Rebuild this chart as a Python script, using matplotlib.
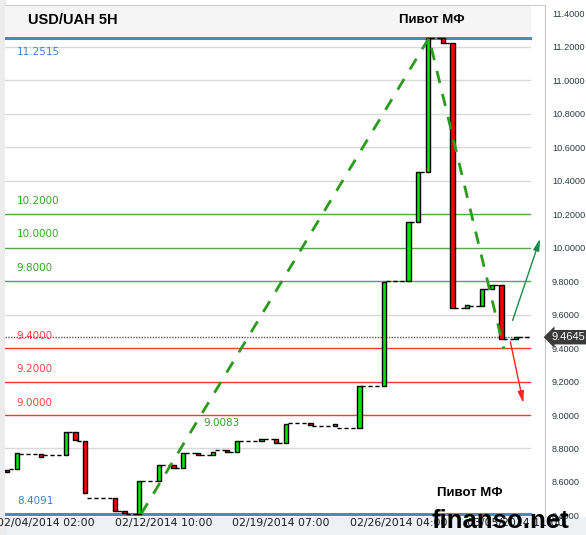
'''
USD/UAH 5H candle chart with pivot levels
'''
import matplotlib
matplotlib.use('Agg')
from matplotlib import pyplot as plt
from matplotlib import transforms as mtrans
from matplotlib.patches import Rectangle

# candles: bar index, open, close
bar_x = [0, 2, 7, 12, 14, 16, 22, 24, 27, 31, 34, 36, 39, 42, 45, 47, 52, 55, 57,
         62, 67, 72, 77, 82, 84, 86, 89, 91, 94, 97, 99, 101, 104]
bar_open = [8.672, 8.678, 8.767, 8.761, 8.899, 8.845, 8.504, 8.427, 8.409, 8.606, 8.701,
            8.684, 8.773, 8.761, 8.791, 8.779, 8.845, 8.857, 8.833, 8.952, 8.934,
            8.922, 9.173, 9.800, 10.152, 10.451, 11.2515, 11.221, 9.639, 9.651, 9.752,
            9.776, 9.454]
bar_close = [8.660, 8.773, 8.749, 8.899, 8.851, 8.534, 8.427, 8.415, 8.606, 8.701, 8.684,
             8.773, 8.761, 8.779, 8.779, 8.845, 8.857, 8.833, 8.946, 8.940, 8.946,
             9.173, 9.794, 10.152, 10.451, 11.2515, 11.221, 9.639, 9.657, 9.752, 9.776,
             9.454, 9.466]

# date ticks
tick_x = [8, 32, 56, 80, 104]
tick_labels = ['02/04/2014 02:00', '02/12/2014 10:00', '02/19/2014 07:00',
               '02/26/2014 04:00', '03/05/2014 11:00']

# levels
grid_levels = [8.8, 9.6, 10.4, 10.6, 10.8, 11.0, 11.2]
green_levels = [10.2, 10.0, 9.8]
red_levels = [9.4, 9.2, 9.0]
blue_levels = [11.2515, 8.4091]
last_price = 9.4645
axis_ticks = [8.4, 8.6, 8.8, 9.0, 9.2, 9.4, 9.6, 9.8, 10.0, 10.2, 10.4, 10.6, 10.8, 11.0, 11.2, 11.4]

# wave drawn by the analyst
wave_x = [27.4, 86.2, 101.5]
wave_y = [8.4091, 11.2515, 9.394]
up_arrow = [(103.1, 9.549), (109.1, 10.069)]
down_arrow = [(102.7, 9.454), (105.6, 9.054)]
mark_x, mark_y, mark_text = 40.2, 8.952, '9.0083'

X_LEFT, X_RIGHT, X_LINE_END = -0.41, 109.9, 106.8
Y_LOW, Y_HIGH = 8.391, 11.448

fig = plt.figure(figsize=(5.86, 5.35), dpi=100)
fig.patch.set_facecolor('white')
ax = fig.add_axes([5 / 586, 18 / 535, 540 / 586, 512 / 535])
ax.set_xlim(X_LEFT, X_RIGHT)
ax.set_ylim(Y_LOW, Y_HIGH)

# bottom band and left edge
fig.patches.append(Rectangle((0, 0), 1, 18 / 535, transform=fig.transFigure,
                             color='#eef1f4', zorder=-5))
fig.patches.append(Rectangle((0, 0), 5 / 586, 1, transform=fig.transFigure,
                             color='#ececec', zorder=-5))
# header band
ax.add_patch(Rectangle((0, 11.27), 0.972, 0.2, transform=mtrans.blended_transform_factory(
    ax.transAxes, ax.transData), color='#f5f5f5', zorder=0))

frac_end = (X_LINE_END - X_LEFT) / (X_RIGHT - X_LEFT)
for lv in grid_levels:
    ax.axhline(lv, xmax=frac_end, color='#d9d9d9', lw=1, zorder=1)
for lv in green_levels:
    ax.axhline(lv, xmax=frac_end, color='#55a84a', lw=1, zorder=1)
for lv in red_levels:
    ax.axhline(lv, xmax=frac_end, color='#ff3535', lw=1, zorder=1)
for lv in blue_levels:
    ax.axhline(lv, xmax=frac_end, color='#4a88cc', lw=2.2, zorder=1)
ax.axhline(last_price, xmax=frac_end, color='#555555', lw=1, ls=(0, (1, 1)), zorder=1)

# level labels
lab_kw = dict(fontsize=7.5, family='DejaVu Sans', va='center', ha='left')
ax.annotate('11.2515', (2.0, blue_levels[0]), xytext=(0, -10), textcoords='offset points',
            color='#3a80d4', **lab_kw)
ax.annotate('8.4091', (2.0, blue_levels[1]), xytext=(0, 9), textcoords='offset points',
            color='#3a80d4', **lab_kw)
for lv in green_levels:
    ax.annotate(f'{lv:.4f}', (2.0, lv), xytext=(0, 9.5), textcoords='offset points',
                color='#3aa32a', **lab_kw)
for lv in red_levels:
    ax.annotate(f'{lv:.4f}', (2.0, lv), xytext=(0, 9), textcoords='offset points',
                color='#ff4545', **lab_kw)
ax.text(mark_x, mark_y, mark_text, color='#3a9a2a', **lab_kw)

# connectors between candles
for i in range(len(bar_x) - 1):
    ax.hlines(bar_open[i + 1], bar_x[i] + 0.4, bar_x[i + 1] - 0.4, colors='black',
              lw=1, linestyles=(0, (3, 2)), zorder=2)
ax.hlines(bar_close[-1], bar_x[-1] + 0.4, X_LINE_END, colors='black', lw=1,
          linestyles=(0, (3, 2)), zorder=2)

# candles
for x, o, c in zip(bar_x, bar_open, bar_close):
    col = '#00e600' if c >= o else '#ff0000'
    ax.bar(x, c - o, bottom=o, width=0.85, color=col, edgecolor='black', lw=1, zorder=3)

# analyst wave and arrows
ax.plot(wave_x, wave_y, color='#2c9a1c', lw=2, ls=(0, (4.5, 4)), zorder=4)
ax.annotate('', xy=up_arrow[1], xytext=up_arrow[0],
            arrowprops=dict(arrowstyle='-|>,head_length=0.7,head_width=0.18',
                            color='#1a8a4a', lw=1), zorder=4)
ax.annotate('', xy=down_arrow[1], xytext=down_arrow[0],
            arrowprops=dict(arrowstyle='-|>,head_length=0.7,head_width=0.18',
                            color='#ff2020', lw=1), zorder=4)

# axes styling
for side in ['left', 'bottom']:
    ax.spines[side].set_visible(False)
ax.spines['top'].set_color('#cccccc')
ax.spines['right'].set_color('#c4c4c4')
ax.yaxis.tick_right()
ax.set_yticks(axis_ticks)
ax.set_yticklabels([f'{v:.4f}' for v in axis_ticks], family='Liberation Sans',
                   fontsize=6.6, color='#2b3a44')
ax.tick_params(axis='y', length=0, pad=5)
ax.set_xticks(tick_x)
ax.set_xticklabels(tick_labels, family='DejaVu Sans', fontsize=7.8, color='#1a1a1a')
ax.tick_params(axis='x', length=0, pad=1)

# last price tag
blend = mtrans.blended_transform_factory(ax.transAxes, ax.transData)
ax.text(1.012, last_price, '9.4645', transform=blend, ha='left', va='center',
        family='Liberation Sans', fontsize=8, color='white', zorder=6, clip_on=False,
        bbox=dict(boxstyle='larrow,pad=0.2', fc='#3a3a3a', ec='none'))

# header
fig.text(28 / 586, 1 - 20 / 535, 'USD/UAH 5H', family='Liberation Sans',
         fontweight='bold', fontsize=10.5, va='center', ha='left')
fig.text(432 / 586, 1 - 20 / 535, 'Пивот МФ', family='Liberation Sans',
         fontweight='bold', fontsize=9.5, va='center', ha='center')

# watermark
fig.text(470 / 586, 1 - 493 / 535, 'Пивот МФ', family='Liberation Sans',
         fontweight='bold', fontsize=9.5, va='center', ha='center', zorder=10)
fig.text(500 / 586, 1 - 528 / 535, 'finanso.net', family='Liberation Sans',
         fontweight='bold', fontsize=18.5, va='baseline', ha='center', zorder=10)

fig.savefig('out.png', dpi=100)
